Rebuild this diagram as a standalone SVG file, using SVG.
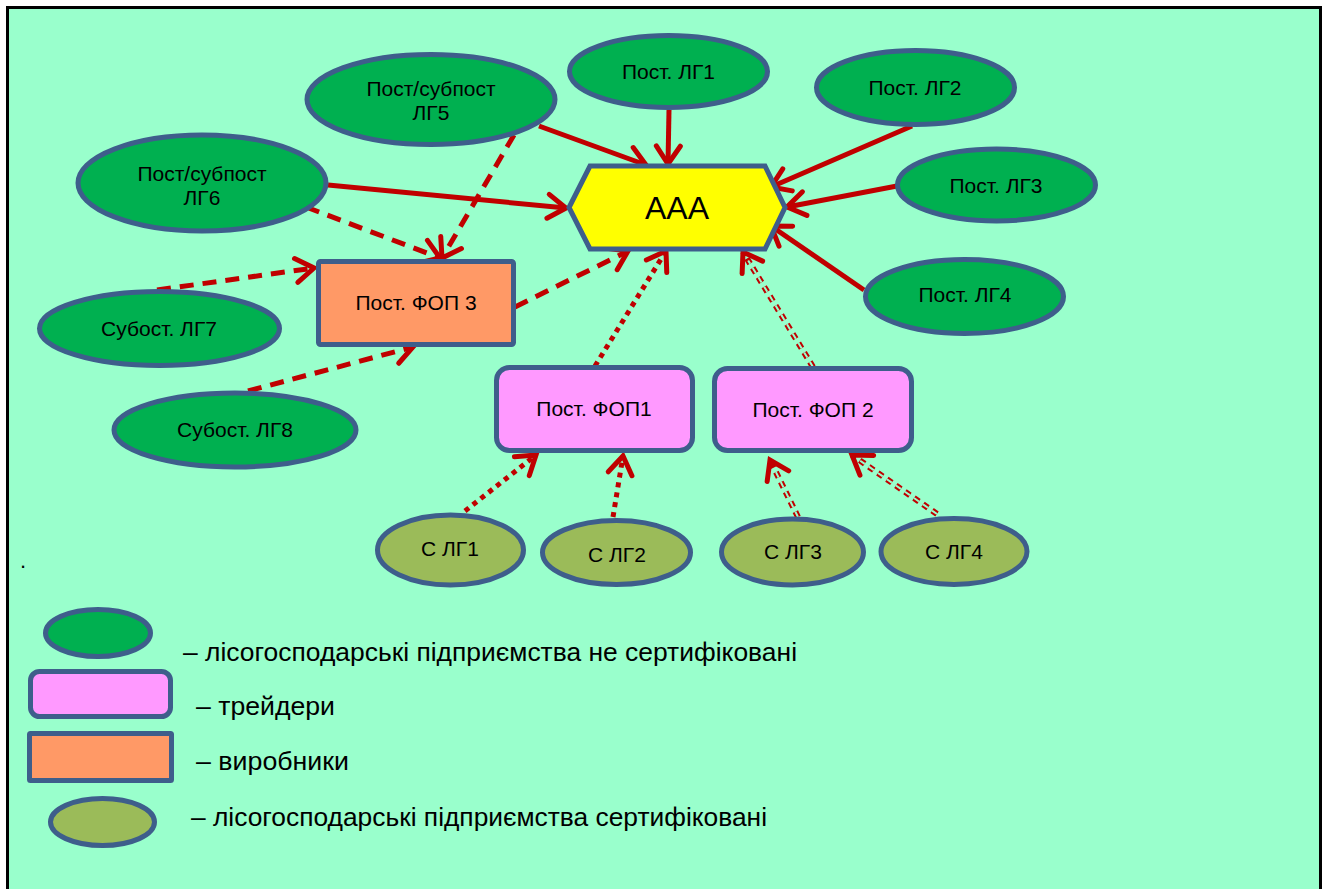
<svg xmlns="http://www.w3.org/2000/svg" width="1325" height="889" viewBox="0 0 1325 889">
<defs>
<style>
.frame{fill:#99FFCC;stroke:#000;stroke-width:3}
.g{fill:#00B050;stroke:#3E5E8B;stroke-width:5}
.o{fill:#9BBB59;stroke:#3E5E8B;stroke-width:5}
.p{fill:#FF99FF;stroke:#3E5E8B;stroke-width:5}
.r{fill:#FF9966;stroke:#3E5E8B;stroke-width:5}
.h{fill:#FFFF00;stroke:#3E5E8B;stroke-width:5;stroke-linejoin:miter}
text{font-family:"Liberation Sans",Arial,sans-serif;fill:#000}
.t{font-size:21px;text-anchor:middle}
.big{font-size:32px;text-anchor:middle}
.leg{font-size:26px}
.c{fill:none;stroke:#C00000;stroke-width:5}
.solid{marker-end:url(#ah)}
.dash{stroke-dasharray:14 9;marker-end:url(#ah)}
.dot{stroke-dasharray:5 5;marker-end:url(#ah)}
.dbl{stroke-width:6;stroke-dasharray:6 5;marker-end:url(#ah)}
.dblin{fill:none;stroke:#99FFCC;stroke-width:2;stroke-dasharray:6 5}
</style>
<marker id="ah" viewBox="0 0 24 24" refX="20" refY="12" markerWidth="24" markerHeight="24" markerUnits="userSpaceOnUse" orient="auto" overflow="visible">
<path d="M2,0 L20,12 L2,24" fill="none" stroke="#C00000" stroke-width="5" stroke-dasharray="none" stroke-linecap="round" stroke-linejoin="miter"/>
</marker>
</defs>
<rect x="0" y="0" width="1325" height="889" fill="#fff"/>
<rect class="frame" x="7.5" y="7.5" width="1313" height="900"/>
<text x="20" y="568" style="font-size:22px">.</text>

<g id="connectors">
<path class="c solid" d="M539,126 L646,165"/>
<path class="c solid" d="M669,110 L668,164"/>
<path class="c solid" d="M912,126 L771,187"/>
<path class="c solid" d="M897,186 L787,207"/>
<path class="c solid" d="M864,290 L771,226"/>
<path class="c solid" d="M328,185 L566,208"/>
<path class="c dash" d="M514,135 L442,258"/>
<path class="c dash" d="M306,207 L440,258"/>
<path class="c dash" d="M157,290 L314,268"/>
<path class="c dash" d="M248,391 L413,347"/>
<path class="c dash" d="M515,307 L628,251"/>
<path class="c dot" d="M595,366 L666,251"/>
<path class="c dot" d="M465,511 L536,455"/>
<path class="c dot" d="M613,517 L623,456"/>
<path class="c dbl" d="M813,367 L743,252"/>
<path class="dblin" d="M813,367 L748.2,260.5"/>
<path class="c dbl" d="M798,517 L770,460"/>
<path class="dblin" d="M798,517 L774.4,469"/>
<path class="c dbl" d="M937,514 L852,455"/>
<path class="dblin" d="M937,514 L860.2,460.7"/>
</g>

<g id="AAA">
<polygon class="h" points="590,166 765,166 785,207.5 765,249 590,249 569,207.5"/>
<text class="big" x="677" y="219">AAA</text>
</g>
<g id="LG5">
<ellipse class="g" cx="431" cy="99.5" rx="124" ry="45"/>
<text class="t" x="431" y="96">Пост/субпост</text>
<text class="t" x="431" y="120">ЛГ5</text>
</g>
<g id="LG1">
<ellipse class="g" cx="668.5" cy="71.5" rx="99" ry="36"/>
<text class="t" x="668.5" y="79">Пост. ЛГ1</text>
</g>
<g id="LG2">
<ellipse class="g" cx="915.5" cy="87.5" rx="99" ry="37"/>
<text class="t" x="915" y="95">Пост. ЛГ2</text>
</g>
<g id="LG3">
<ellipse class="g" cx="996.5" cy="185" rx="99" ry="36"/>
<text class="t" x="996" y="193">Пост. ЛГ3</text>
</g>
<g id="LG4">
<ellipse class="g" cx="964.5" cy="296.5" rx="99" ry="37"/>
<text class="t" x="965" y="302">Пост. ЛГ4</text>
</g>
<g id="LG6">
<ellipse class="g" cx="202" cy="183" rx="124" ry="48"/>
<text class="t" x="202" y="181">Пост/субпост</text>
<text class="t" x="202" y="205">ЛГ6</text>
</g>
<g id="LG7">
<ellipse class="g" cx="159.5" cy="328.5" rx="120" ry="37"/>
<text class="t" x="159" y="336">Субост. ЛГ7</text>
</g>
<g id="LG8">
<ellipse class="g" cx="235" cy="430" rx="121" ry="37"/>
<text class="t" x="235" y="437">Субост. ЛГ8</text>
</g>
<g id="FOP3">
<rect class="r" x="318.5" y="261.5" width="195" height="83" rx="2"/>
<text class="t" x="416" y="310">Пост. ФОП 3</text>
</g>
<g id="FOP1">
<rect class="p" x="496.5" y="367.5" width="196" height="83" rx="13"/>
<text class="t" x="594" y="416">Пост. ФОП1</text>
</g>
<g id="FOP2">
<rect class="p" x="714.5" y="368.5" width="197" height="82" rx="13"/>
<text class="t" x="813" y="417">Пост. ФОП 2</text>
</g>
<g id="SLG1">
<ellipse class="o" cx="450.5" cy="550" rx="73" ry="35"/>
<text class="t" x="450" y="556">С ЛГ1</text>
</g>
<g id="SLG2">
<ellipse class="o" cx="616.5" cy="552.5" rx="74" ry="32"/>
<text class="t" x="617" y="562">С ЛГ2</text>
</g>
<g id="SLG3">
<ellipse class="o" cx="792.5" cy="552" rx="71" ry="33"/>
<text class="t" x="793" y="559">С ЛГ3</text>
</g>
<g id="SLG4">
<ellipse class="o" cx="954" cy="551.5" rx="73" ry="33"/>
<text class="t" x="954" y="559">С ЛГ4</text>
</g>

<g id="legend">
<ellipse class="g" cx="98" cy="633" rx="52.5" ry="23.5"/>
<text class="leg" x="183" y="661" textLength="614" lengthAdjust="spacingAndGlyphs">– лісогосподарські підприємства не сертифіковані</text>
<rect class="p" x="30.5" y="671.5" width="140" height="45" rx="9"/>
<text class="leg" x="196" y="715" textLength="139" lengthAdjust="spacingAndGlyphs">– трейдери</text>
<rect class="r" x="29.5" y="733.5" width="142" height="47" rx="1"/>
<text class="leg" x="196" y="770" textLength="153" lengthAdjust="spacingAndGlyphs">– виробники</text>
<ellipse class="o" cx="102.5" cy="822" rx="52" ry="23.5"/>
<text class="leg" x="191" y="826" textLength="576" lengthAdjust="spacingAndGlyphs">– лісогосподарські підприємства сертифіковані</text>
</g>
</svg>
